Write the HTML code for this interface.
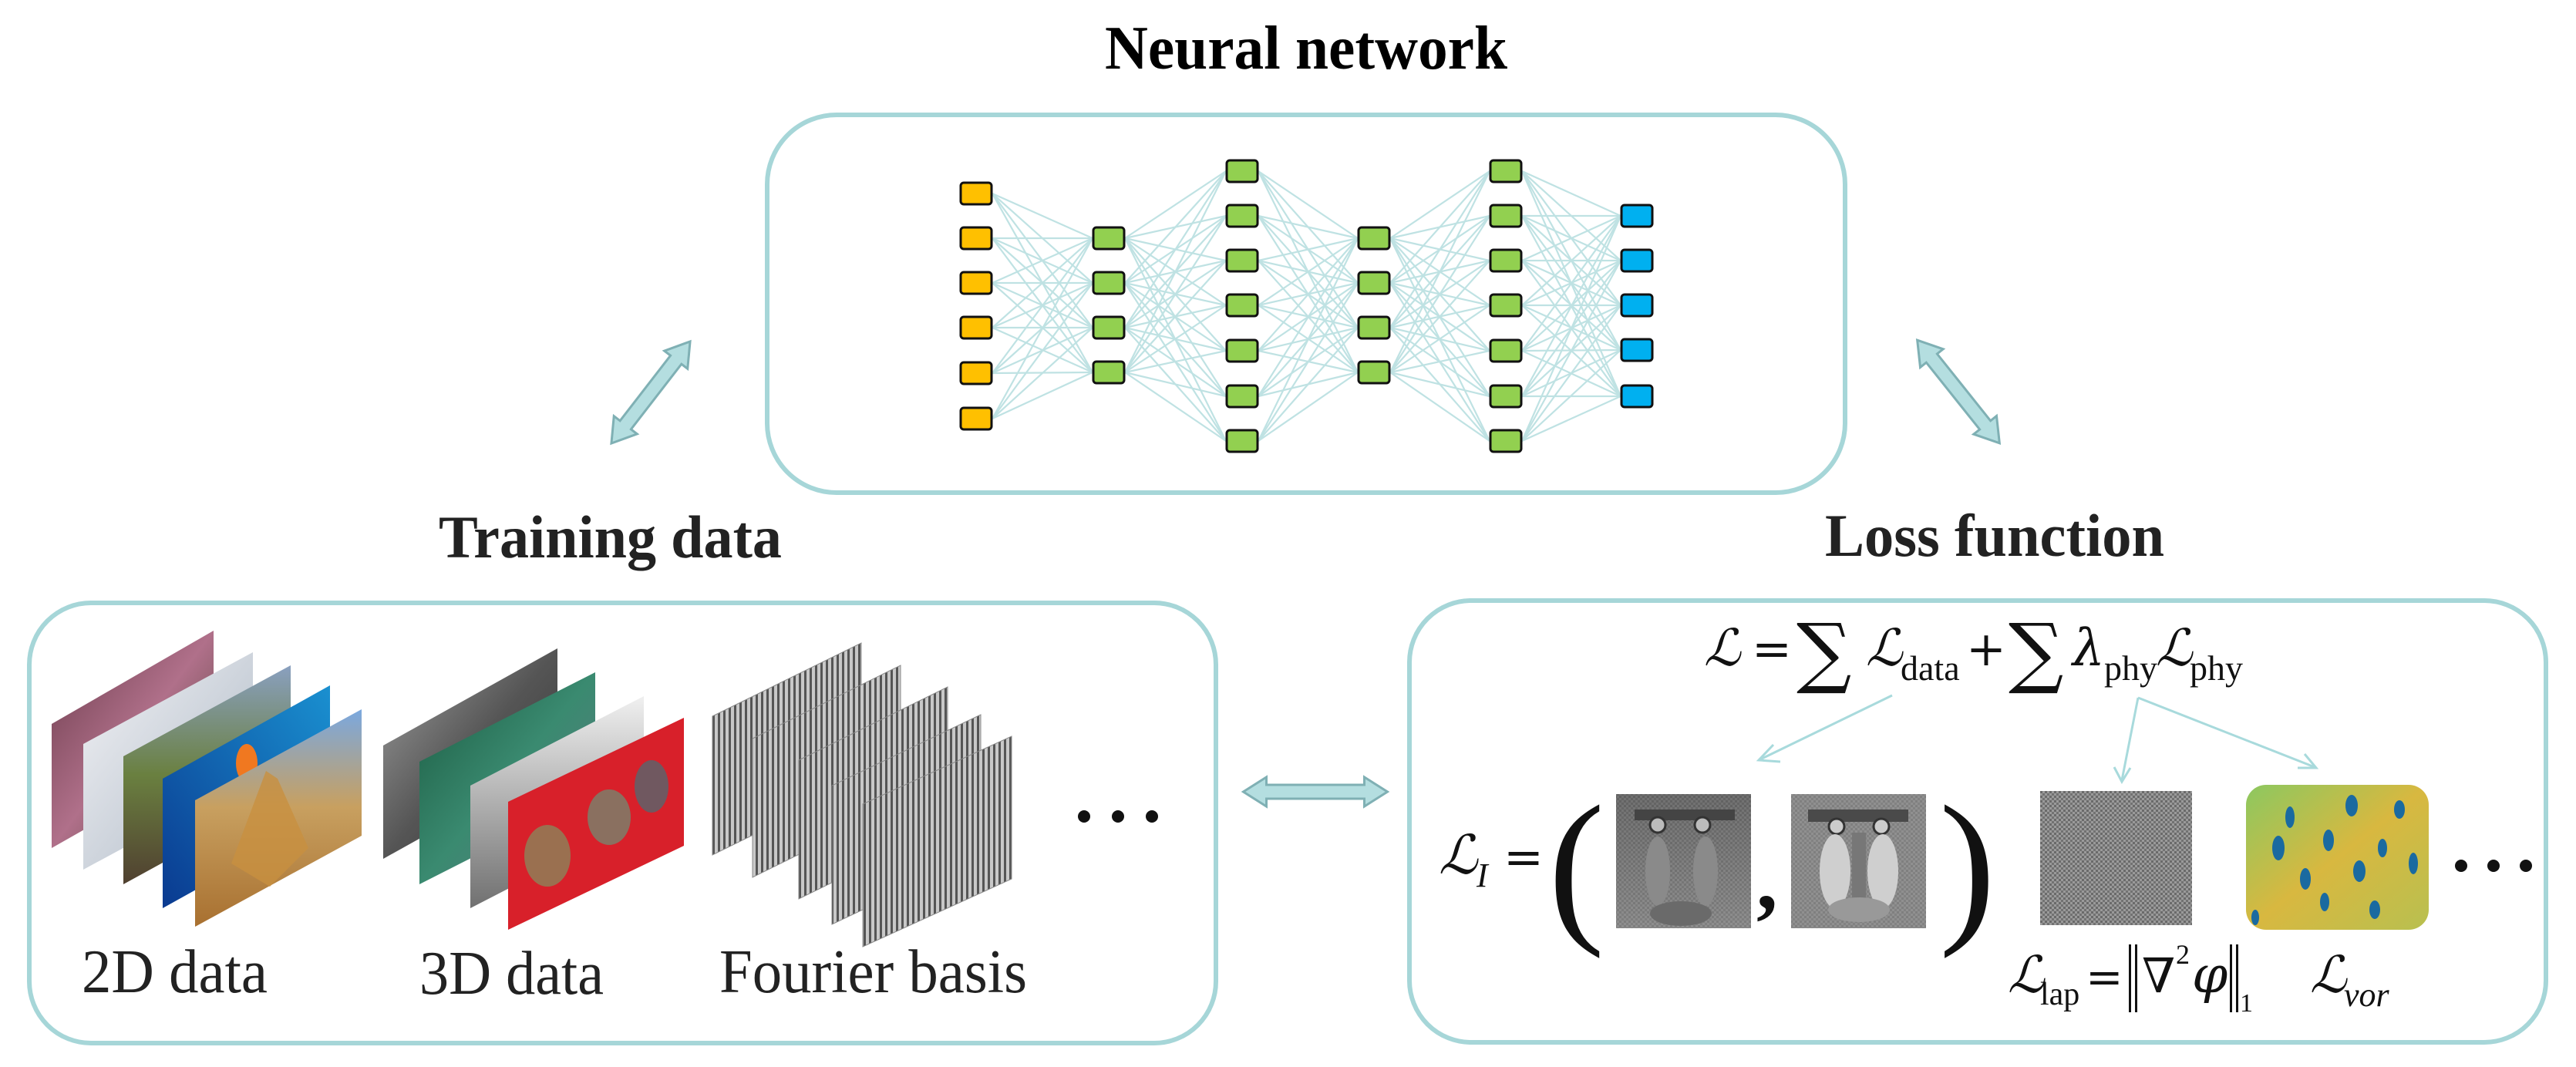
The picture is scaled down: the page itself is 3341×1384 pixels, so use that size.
<!DOCTYPE html>
<html><head><meta charset="utf-8"><style>
html,body{margin:0;padding:0;background:#fff;width:3341px;height:1384px;overflow:hidden}
svg{display:block}
.t{font-family:"Liberation Serif",serif}
.m{font-family:"DejaVu Serif","Liberation Serif",serif}
</style></head><body>
<svg id="s" width="3341" height="1384" viewBox="0 0 3341 1384" xmlns="http://www.w3.org/2000/svg">
<defs>
<pattern id="stripe" width="7" height="10" patternUnits="userSpaceOnUse"><rect width="7" height="10" fill="#c8c8c8"/><rect width="3" height="10" fill="#555"/></pattern>
<pattern id="noise" width="6" height="6" patternUnits="userSpaceOnUse"><rect width="6" height="6" fill="#9a9a9a"/><rect width="3" height="3" fill="#6a6a6a"/><rect x="3" y="3" width="3" height="3" fill="#727272"/></pattern>
<linearGradient id="g1" x1="0" y1="0" x2="1" y2="1"><stop offset="0" stop-color="#6a3a4a"/><stop offset=".5" stop-color="#b0708a"/><stop offset="1" stop-color="#4a3a30"/></linearGradient>
<linearGradient id="g2" x1="0" y1="0" x2="1" y2="1"><stop offset="0" stop-color="#f2f2f5"/><stop offset=".6" stop-color="#c8cfd8"/><stop offset="1" stop-color="#8a8a80"/></linearGradient>
<linearGradient id="g3" x1="0" y1="0" x2="0" y2="1"><stop offset="0" stop-color="#8aa0c0"/><stop offset=".5" stop-color="#6a8040"/><stop offset="1" stop-color="#504030"/></linearGradient>
<linearGradient id="g4" x1="1" y1="0" x2="0" y2="1"><stop offset="0" stop-color="#1a90d0"/><stop offset="1" stop-color="#0a3a90"/></linearGradient>
<linearGradient id="g5" x1="0" y1="0" x2="0" y2="1"><stop offset="0" stop-color="#7aa8e0"/><stop offset=".45" stop-color="#c8a060"/><stop offset="1" stop-color="#a87030"/></linearGradient>
<linearGradient id="h1" x1="0" y1="0" x2="1" y2="1"><stop offset="0" stop-color="#a0a0a0"/><stop offset=".5" stop-color="#555"/><stop offset="1" stop-color="#333"/></linearGradient>
<linearGradient id="h2" x1="0" y1="0" x2="1" y2="1"><stop offset="0" stop-color="#1a5a40"/><stop offset=".5" stop-color="#3a8a70"/><stop offset="1" stop-color="#607880"/></linearGradient>
<linearGradient id="h3" x1="0" y1="0" x2="0" y2="1"><stop offset="0" stop-color="#f0f0f0"/><stop offset="1" stop-color="#707070"/></linearGradient>
<linearGradient id="bab" x1="0" y1="0" x2="0" y2="1"><stop offset="0" stop-color="#5a5a5a"/><stop offset="1" stop-color="#888"/></linearGradient>
<linearGradient id="vor" x1="0" y1="0" x2="1" y2="1"><stop offset="0" stop-color="#8cc860"/><stop offset=".5" stop-color="#d8b840"/><stop offset="1" stop-color="#b8c050"/></linearGradient>
</defs>

<text class="t" x="1433" y="89" font-size="80" font-weight="bold" textLength="522" lengthAdjust="spacingAndGlyphs">Neural network</text>
<text class="t" x="569" y="723" font-size="78" font-weight="bold" fill="#222" textLength="445" lengthAdjust="spacingAndGlyphs">Training data</text>
<text class="t" x="2367" y="721" font-size="78" font-weight="bold" fill="#222" textLength="440" lengthAdjust="spacingAndGlyphs">Loss function</text>

<rect x="995" y="149" width="1398" height="490" rx="90" fill="none" stroke="#a6d6d8" stroke-width="6"/>
<rect x="38" y="782" width="1539" height="571" rx="80" fill="none" stroke="#a6d6d8" stroke-width="6"/>
<rect x="1828" y="779" width="1474" height="573" rx="80" fill="none" stroke="#a6d6d8" stroke-width="6"/>

<g id="net"></g>

<g fill="#b4dee0" stroke="#7fb0b4" stroke-width="3">
<polygon id="da1" transform="translate(844,509) rotate(-52.3)"/>
<polygon id="da2" transform="translate(2540,508) rotate(51.4)"/>
<polygon id="da3" transform="translate(1706,1027)"/>
</g>

<polygon points="67,939 277,818 277,981 67,1100" fill="url(#g1)"/>
<polygon points="108,965 328,846 328,1009 108,1128" fill="url(#g2)"/>
<polygon points="160,981 377,863 377,1028 160,1147" fill="url(#g3)"/>
<polygon points="211,1010 428,889 428,1057 211,1178" fill="url(#g4)"/>
<ellipse cx="320" cy="990" rx="14" ry="25" fill="#f07820"/>
<polygon points="253,1038 469,920 469,1084 253,1202" fill="url(#g5)"/>
<polygon points="300,1120 345,1000 360,1010 400,1100 350,1150" fill="#c89040" opacity=".8"/>

<polygon points="497,967 723,841 723,988 497,1114" fill="url(#h1)"/>
<polygon points="544,988 772,872 772,1031 544,1147" fill="url(#h2)"/>
<polygon points="610,1019 835,903 835,1062 610,1178" fill="url(#h3)"/>
<polygon points="659,1040 887,931 887,1097 659,1206" fill="#d8202a"/>
<ellipse cx="710" cy="1110" rx="30" ry="40" fill="#9a7050"/>
<ellipse cx="790" cy="1060" rx="28" ry="36" fill="#8a7060"/>
<ellipse cx="845" cy="1020" rx="22" ry="34" fill="#705860"/>

<g stroke="#888" stroke-width="1">
<polygon points="924,929 1117,834 1117,1014 924,1109" fill="url(#stripe)"/>
<polygon points="976,958 1168,863 1168,1043 976,1138" fill="url(#stripe)"/>
<polygon points="1036,986 1229,891 1229,1071 1036,1166" fill="url(#stripe)"/>
<polygon points="1079,1019 1272,927 1272,1107 1079,1199" fill="url(#stripe)"/>
<polygon points="1119,1043 1312,955 1312,1140 1119,1228" fill="url(#stripe)"/>
</g>

<text class="t" x="106" y="1287" font-size="80" fill="#222" textLength="241" lengthAdjust="spacingAndGlyphs">2D data</text>
<text class="t" x="544" y="1289" font-size="80" fill="#222" textLength="239" lengthAdjust="spacingAndGlyphs">3D data</text>
<text class="t" x="933" y="1287" font-size="80" fill="#222" textLength="399" lengthAdjust="spacingAndGlyphs">Fourier basis</text>
<g fill="#111"><circle cx="1406" cy="1059" r="8"/><circle cx="1450" cy="1059" r="8"/><circle cx="1494" cy="1059" r="8"/></g>

<g class="m" fill="#111">
<text x="2210" y="863" font-size="66" font-style="italic">ℒ</text>
<text x="2272" y="863" font-size="62">=</text>
<text x="2330" y="880" font-size="100">∑</text>
<text x="2420" y="863" font-size="66" font-style="italic">ℒ</text>
<text class="t" x="2465" y="882" font-size="46">data</text>
<text x="2550" y="863" font-size="62">+</text>
<text x="2605" y="880" font-size="100">∑</text>
<text x="2688" y="863" font-size="66" font-style="italic">λ</text>
<text class="t" x="2729" y="882" font-size="46">phy</text>
<text x="2796" y="863" font-size="66" font-style="italic">ℒ</text>
<text class="t" x="2840" y="882" font-size="46">phy</text>
</g>

<g stroke="#a8dadc" stroke-width="3" fill="none">
<line x1="2454" y1="902" x2="2283" y2="985"/>
<polyline points="2300,966 2281,986 2309,988"/>
<line x1="2773" y1="905" x2="2752" y2="1012"/>
<polyline points="2742,995 2752,1014 2763,996"/>
<line x1="2773" y1="905" x2="3002" y2="995"/>
<polyline points="2980,996 3004,996 2989,978"/>
</g>

<g class="m" fill="#111">
<text x="1866" y="1133" font-size="70" font-style="italic">ℒ</text>
<text class="t" x="1915" y="1150" font-size="44" font-style="italic">I</text>
<text x="1950" y="1133" font-size="62">=</text>
<text class="t" x="2008" y="1196" font-size="220">(</text>
<text class="t" x="2515" y="1196" font-size="220">)</text>
<text class="t" x="2278" y="1178" font-size="110" font-weight="bold">,</text>
</g>
<g>
<rect x="2096" y="1030" width="175" height="174" fill="url(#bab)"/>
<rect x="2096" y="1030" width="175" height="174" fill="url(#noise)" opacity=".35"/>
<rect x="2120" y="1050" width="130" height="14" fill="#444"/>
<circle cx="2150" cy="1070" r="10" fill="#bbb" stroke="#333" stroke-width="3"/>
<circle cx="2208" cy="1070" r="10" fill="#bbb" stroke="#333" stroke-width="3"/>
<ellipse cx="2150" cy="1130" rx="16" ry="45" fill="#8a8a8a"/>
<ellipse cx="2212" cy="1130" rx="16" ry="45" fill="#8a8a8a"/>
<ellipse cx="2180" cy="1185" rx="40" ry="16" fill="#6a6a6a"/>
<rect x="2323" y="1030" width="175" height="174" fill="#8a8a8a"/>
<rect x="2323" y="1030" width="175" height="174" fill="url(#noise)" opacity=".35"/>
<rect x="2345" y="1050" width="130" height="16" fill="#4a4a4a"/>
<circle cx="2382" cy="1072" r="10" fill="#ccc" stroke="#333" stroke-width="3"/>
<circle cx="2440" cy="1072" r="10" fill="#ccc" stroke="#333" stroke-width="3"/>
<ellipse cx="2380" cy="1130" rx="20" ry="48" fill="#cfcfcf"/>
<ellipse cx="2442" cy="1130" rx="20" ry="48" fill="#cfcfcf"/>
<rect x="2402" y="1080" width="18" height="90" fill="#777"/>
<ellipse cx="2411" cy="1180" rx="40" ry="16" fill="#999"/>
<rect x="2646" y="1026" width="197" height="174" fill="url(#noise)"/>
<rect x="2913" y="1018" width="237" height="188" rx="26" fill="url(#vor)"/>
<g fill="#1a6aa0">
<ellipse cx="2970" cy="1060" rx="6" ry="14"/><ellipse cx="3050" cy="1045" rx="8" ry="14"/><ellipse cx="3112" cy="1050" rx="7" ry="12"/>
<ellipse cx="2955" cy="1100" rx="8" ry="16"/><ellipse cx="3020" cy="1090" rx="7" ry="14"/><ellipse cx="3090" cy="1100" rx="6" ry="12"/>
<ellipse cx="2990" cy="1140" rx="7" ry="14"/><ellipse cx="3060" cy="1130" rx="8" ry="14"/><ellipse cx="3130" cy="1120" rx="6" ry="14"/>
<ellipse cx="3015" cy="1170" rx="6" ry="12"/><ellipse cx="3080" cy="1180" rx="7" ry="12"/><ellipse cx="2925" cy="1190" rx="5" ry="10"/>
</g>
</g>
<g fill="#111"><circle cx="3192" cy="1123" r="8"/><circle cx="3234" cy="1123" r="8"/><circle cx="3276" cy="1123" r="8"/></g>

<g class="m" fill="#111">
<text x="2604" y="1287" font-size="66" font-style="italic">ℒ</text>
<text class="t" x="2646" y="1303" font-size="42">lap</text>
<text x="2705" y="1287" font-size="58">=</text>
<rect x="2761" y="1225" width="3" height="88"/><rect x="2769" y="1225" width="3" height="88"/>
<text x="2778" y="1287" font-size="62">∇</text>
<text class="t" x="2822" y="1250" font-size="36">2</text>
<text x="2843" y="1287" font-size="66" font-style="italic">φ</text>
<rect x="2892" y="1225" width="3" height="88"/><rect x="2900" y="1225" width="3" height="88"/>
<text class="t" x="2905" y="1312" font-size="34">1</text>
<text x="2996" y="1287" font-size="66" font-style="italic">ℒ</text>
<text class="t" x="3040" y="1305" font-size="44" font-style="italic">vor</text>
</g>
</svg>
<script>
(function(){
var cols=[1266,1438,1611,1782,1953,2123];
var rows=[[251,309,367,425,484,543],[309,367,425,483],[222,280,338,396,455,514,572],[309,367,425,483],[222,280,338,396,455,514,572],[280,338,396,454,514]];
var g=document.getElementById("net");
var s="";
for(var c=0;c<5;c++){for(var i=0;i<rows[c].length;i++){for(var j=0;j<rows[c+1].length;j++){
s+='<line x1="'+(cols[c]+21)+'" y1="'+rows[c][i]+'" x2="'+(cols[c+1]-21)+'" y2="'+rows[c+1][j]+'"/>';}}}
var fills=["#ffc000","#92d050","#92d050","#92d050","#92d050","#00b0f0"];
var n="";
for(var c=0;c<6;c++){for(var i=0;i<rows[c].length;i++){
n+='<rect x="'+(cols[c]-20)+'" y="'+(rows[c][i]-14)+'" width="40" height="28" rx="4" fill="'+fills[c]+'" stroke="#111" stroke-width="3"/>';}}
g.innerHTML='<g stroke="#bfe2e3" stroke-width="2.2">'+s+'</g>'+n;
function da(id,L){var h=30,H=19,w=9,a=-L/2,b=L/2;
var p=[[a,0],[a+h,-H],[a+h,-w],[b-h,-w],[b-h,-H],[b,0],[b-h,H],[b-h,w],[a+h,w],[a+h,H]];
document.getElementById(id).setAttribute("points",p.map(function(q){return q.join(",")}).join(" "));}
da("da1",167);da("da2",171);da("da3",187);
})();
</script>
</body></html>
